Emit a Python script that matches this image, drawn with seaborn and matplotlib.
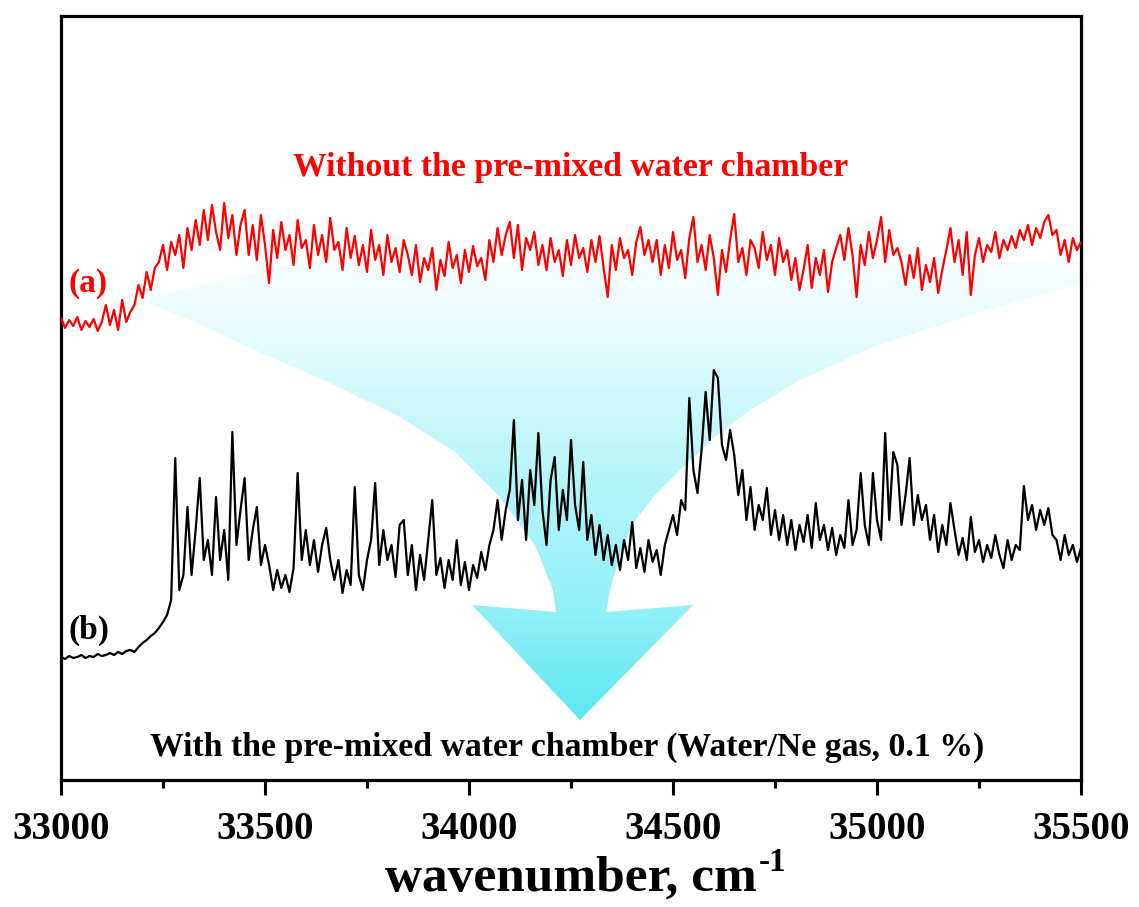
import numpy as np
import pandas as pd
import matplotlib
matplotlib.use("Agg")
import matplotlib.pyplot as plt
import seaborn as sns
from matplotlib.path import Path
from matplotlib.patches import PathPatch
from matplotlib.colors import LinearSegmentedColormap
from matplotlib.ticker import MultipleLocator

# ---------------- data (arbitrary intensity units) ----------------
wavenumber = np.arange(33000, 35501, 10)

without_chamber = [
    462, 452, 460, 454, 463, 450, 459, 453, 461, 449, 458,
    475, 455, 470, 450, 480, 458, 468,
    475, 495, 482, 508, 490, 512,
    518, 535, 510, 538, 525,
    545, 512, 552, 530,
    560, 535, 570, 540, 575, 548, 530, 577, 542, 565, 525, 555,
    570, 525, 555, 520, 565, 535,
    497,
    550, 522, 558, 530, 545, 515, 560, 532, 540, 512,
    555, 525, 545, 518, 562, 530, 538, 510, 552, 522,
    544, 515, 535, 508, 550, 520, 535, 505, 545, 518,
    532, 508, 540,
    525, 505, 535, 498, 522, 510, 532, 490, 520, 504,
    538, 512, 525, 497, 530, 508, 534, 514, 522, 500,
    540, 518, 552, 525, 545, 558, 522, 555, 510, 542, 530, 548, 515,
    535, 510, 542, 518, 530, 504, 540, 515, 545, 522, 532, 508,
    540, 518, 544, 512, 483, 535, 510, 542, 522, 530, 505, 538,
    553, 525, 540,
    518, 540, 505, 535, 512, 548, 520, 530, 502, 542,
    563, 518, 535, 510, 545, 522, 485, 530, 508, 540,
    566, 518, 532, 505, 540,
    532, 512, 548, 520, 535, 505, 542, 518, 530, 500, 522, 490,
    510, 535, 492, 522, 505, 530, 488, 518, 532,
    545, 520, 552, 525, 483, 535, 515, 548, 522, 540, 563, 518, 550, 525, 532,
    518, 495, 525, 502, 532, 490, 515, 498, 522, 487, 510, 530,
    552, 518, 540, 505, 548, 485,
    525, 542, 518, 535, 528, 548, 522, 540, 530, 544, 532, 550,
    540, 555, 535, 552, 542, 558, 565, 545,
    550, 525, 540, 518, 542, 530, 538,
]

with_chamber = [
    123, 121, 124, 122, 123, 125, 122, 124, 123, 126, 124, 125, 127, 125, 128, 126, 129, 130, 128,
    133, 137, 140, 144, 147,
    152, 158, 165,
    180, 322,
    190, 205,
    273, 205, 250, 302, 220,
    240, 205, 283, 220, 250, 200, 348,
    235, 270, 302,
    220, 250, 273, 215, 235,
    215, 190, 210, 192, 205, 188, 212,
    307,
    220, 250, 215, 240, 208, 235, 252, 220,
    200, 220, 187, 210, 195, 293, 205, 190, 220,
    240, 297, 215, 250, 220, 235, 203, 255, 260,
    205, 235, 190, 225, 200, 240, 280,
    205, 222, 192, 220, 200, 240, 195, 218, 190, 215, 202, 228, 210, 235,
    250, 280, 240, 270, 290,
    360,
    260, 300, 240, 310, 275,
    347,
    270, 235, 300,
    323,
    250, 290, 260,
    340,
    275, 250, 318,
    240, 265, 225, 255, 220,
    245, 215, 235, 210, 240, 220, 258, 212, 232, 208, 240, 218, 230, 205, 235, 250,
    265, 245, 280, 270,
    382, 310,
    287, 330,
    388,
    340, 410,
    402,
    335, 320, 350, 325,
    285, 310, 260,
    293, 250, 275, 260, 292, 245, 270, 240, 265,
    235, 260, 230, 255, 238, 265, 232, 277, 240, 255,
    230, 252, 225, 245, 232, 280, 235, 250, 307,
    255, 235, 307, 260, 240, 347,
    260, 328, 315, 255, 285, 322, 255, 285, 260, 275,
    240, 265, 228, 255, 235, 277, 250,
    225, 242, 220, 263, 228, 240, 218, 235, 222, 245, 225, 212, 240, 220, 235, 230,
    294, 260,
    275, 250, 270, 255, 272, 245,
    240, 220, 245, 225, 235, 218, 232,
]

tick_values = [33000, 33500, 34000, 34500, 35000, 35500]
label_a = "(a)"
label_b = "(b)"
title_a = "Without the pre-mixed water chamber"
title_b = "With the pre-mixed water chamber (Water/Ne gas, 0.1 %)"
x_label = "wavenumber, cm"
x_label_exp = "-1"

df = pd.DataFrame({
    "wavenumber": np.concatenate([wavenumber, wavenumber]),
    "intensity": np.concatenate([without_chamber, with_chamber]),
    "series": ["a"] * len(wavenumber) + ["b"] * len(wavenumber),
})

# ---------------- style ----------------
sns.set_theme(style="white")
plt.rcParams['font.family'] = ['Liberation Serif', 'DejaVu Serif']
plt.rcParams['font.weight'] = 'bold'
plt.rcParams['text.color'] = 'black'
plt.rcParams['axes.labelcolor'] = 'black'
plt.rcParams['xtick.color'] = 'black'

fig = plt.figure(figsize=(11.39, 9.07), dpi=100)
ax = fig.add_axes([61 / 1139, 1 - 780 / 907, 1020 / 1139, 764 / 907])

# ---------------- decorative cyan arrow (axes-fraction coordinates) ----------------
def frac(xp, yp):
    return ((xp - 61) / 1020, (780 - yp) / 764)

outline_px = [
    (140, 300), (300, 262), (1081, 262), (1081, 283),
    (980, 312), (873, 347), (800, 380), (750, 410), (715, 437), (683, 467),
    (655, 495), (633, 523), (620, 555), (610, 590), (606, 612),
    (693, 605), (580, 720), (472, 605), (556, 612),
    (553, 590), (535, 545), (500, 497), (455, 452), (400, 417),
    (330, 383), (255, 350), (190, 320),
]
verts = [frac(x, y) for x, y in outline_px]
verts.append(verts[0])
codes = [Path.MOVETO] + [Path.LINETO] * (len(verts) - 2) + [Path.CLOSEPOLY]
clip = PathPatch(Path(verts, codes), transform=ax.transAxes, facecolor="none",
                 edgecolor="none")
ax.add_patch(clip)

cmap = LinearSegmentedColormap.from_list("cyanfade", [
    (0.0, "#5ce7f1"), (0.0785, "#5ce7f1"), (0.2225, "#92f0f8"),
    (0.34, "#aaf3f9"), (0.471, "#c8f7fb"), (0.563, "#e2fbfd"),
    (0.678, "#f6feff"), (1.0, "#ffffff"),
])
grad = np.linspace(0, 1, 512).reshape(-1, 1)
im = ax.imshow(grad, extent=(0, 1, 0, 1), transform=ax.transAxes, origin="lower",
               aspect="auto", cmap=cmap, vmin=0, vmax=1, zorder=0,
               interpolation="bilinear")
im.set_clip_path(clip)

# ---------------- spectra ----------------
sns.lineplot(data=df, x="wavenumber", y="intensity", hue="series",
             palette={"a": "#ff0000", "b": "#000000"}, linewidth=1.6,
             legend=False, ax=ax, zorder=3, estimator=None, sort=False)

ax.set_xlim(33000, 35500)
ax.set_ylim(0, 764)
ax.set_aspect("auto")

# ---------------- axes styling ----------------
for s in ax.spines.values():
    s.set_visible(True)
    s.set_linewidth(2.3)
    s.set_color("black")
ax.set_xticks(tick_values)
ax.xaxis.set_minor_locator(MultipleLocator(250))
ax.tick_params(axis="x", which="major", direction="out", length=11, width=2.2,
               labelsize=28, pad=11, bottom=True, colors="black")
ax.tick_params(axis="x", which="minor", direction="out", length=5.5, width=2.2,
               bottom=True, colors="black")
ax.set_yticks([])
for lab in ax.get_xticklabels():
    lab.set_fontweight("bold")
ax.set_ylabel("")
xl = ax.set_xlabel(x_label, fontsize=37, fontweight="bold", labelpad=6,
                   color="black")

# ---------------- annotations ----------------
ax.text(0.5, 0.7906, title_a, transform=ax.transAxes, ha="center", va="baseline",
        fontsize=24.3, fontweight="bold", color="#ff0000", zorder=5)
ax.text(0.4966, 0.0314, title_b, transform=ax.transAxes, ha="center", va="baseline",
        fontsize=24.3, fontweight="bold", color="black", zorder=5)
ax.text(0.0069, 0.6505, label_a, transform=ax.transAxes, ha="left", va="center",
        fontsize=24, fontweight="bold", color="#ff0000", zorder=5)
ax.text(0.0069, 0.1963, label_b, transform=ax.transAxes, ha="left", va="center",
        fontsize=24, fontweight="bold", color="black", zorder=5)

# superscript of the axis label, placed next to the rendered label
fig.canvas.draw()
bb = xl.get_window_extent(fig.canvas.get_renderer())
W, H = fig.bbox.width, fig.bbox.height
fig.text((bb.x1 + 2) / W, (bb.y1 + 9) / H, x_label_exp, ha="left", va="top",
         fontsize=24, fontweight="bold", color="black")

fig.savefig("out.png", dpi=100)
